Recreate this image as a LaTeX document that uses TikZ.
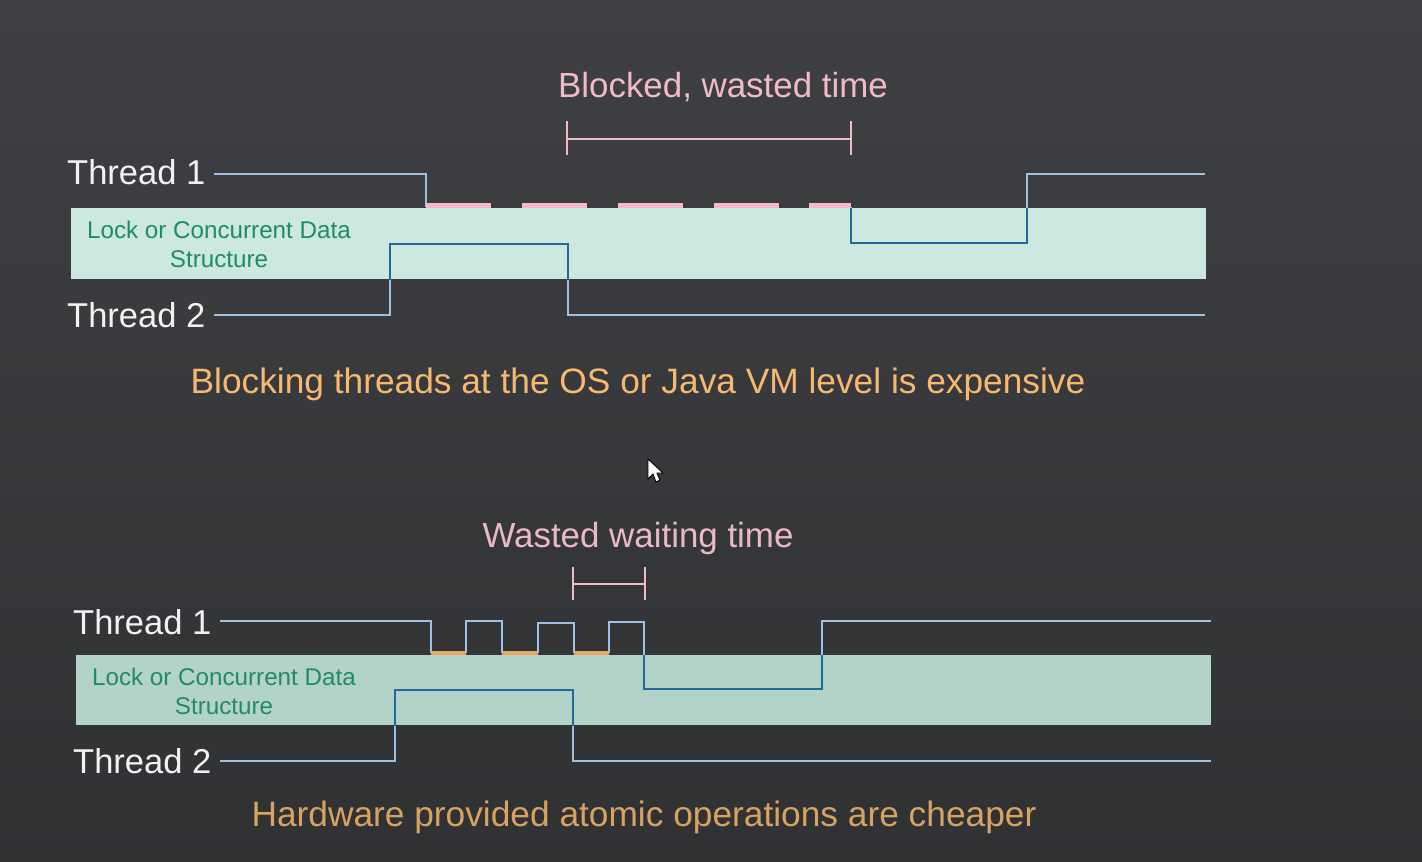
\documentclass[tikz,border=0pt]{standalone}
\usepackage{fontspec}
\setmainfont{Liberation Sans}
\begin{document}
\begin{tikzpicture}[x=1pt,y=-1pt,
  lbl/.style={inner sep=0pt,anchor=base west,text=white!95!black,font=\fontsize{34.5}{40}\selectfont},
  boxtxt/.style={inner sep=0pt,anchor=base,text=boxgreen,font=\fontsize{24.2}{28}\selectfont},
  wave/.style={line width=2.6pt,color=lightblue,line join=miter},
  wavein/.style={line width=2.6pt,color=darkblue,line join=miter},
  pinkbar/.style={line width=5pt,color=pinkc},
  orangebar/.style={line width=4pt,color=orangec},
  brack/.style={line width=2.5pt,color=pinkc},
]
\definecolor{bgtop}{HTML}{3F4043}
\definecolor{bgbot}{HTML}{303133}
\definecolor{boxA}{HTML}{CCE8DF}
\definecolor{boxB}{HTML}{B4D3C8}
\definecolor{boxgreen}{HTML}{1E8C6A}
\definecolor{lightblue}{HTML}{9EC0E2}
\definecolor{darkblue}{HTML}{236A9C}
\definecolor{pinkc}{HTML}{F2B9C8}
\definecolor{pinkd}{HTML}{EBB8C6}
\definecolor{orangec}{HTML}{E9A95C}
\definecolor{orangeT}{HTML}{F7B870}
\definecolor{orangeB}{HTML}{D8A262}

\useasboundingbox (0,0) rectangle (1422,862);
\shade[top color=bgtop,bottom color=bgbot] (0,0) rectangle (1422,862);

% ================= TOP DIAGRAM =================
\node[inner sep=0pt,anchor=base,text=pinkc,font=\fontsize{34.9}{40}\selectfont] (t1) at (723,97) {Blocked, wasted time};
\coordinate (bl) at (567,139); \coordinate (br) at (851,139);
\draw[brack] (567,121) -- (567,155);
\draw[brack] (851,121) -- (851,155);
\draw[brack] (bl) -- (br);

\fill[boxA] (71,208) rectangle (1206,279);
\node[boxtxt] (bx1) at (219,238) {Lock or Concurrent Data};
\node[boxtxt] (bx2) at (219,267) {Structure};

\node[lbl] (th1) at (67,184) {Thread 1};
\node[lbl] (th2) at (67,327) {Thread 2};

\def\topOne{(214,174) -- (426,174) -- (426,207)  (851,207) -- (851,243) -- (1027,243) -- (1027,174) -- (1205,174)}
\def\topTwo{(214,315) -- (390,315) -- (390,244) -- (568,244) -- (568,315) -- (1205,315)}
\draw[wave] \topOne;
\draw[wave] \topTwo;
\begin{scope}
\clip (71,208) rectangle (1206,279);
\draw[wavein] \topOne;
\draw[wavein] \topTwo;
\end{scope}
\foreach \a/\b in {426/491,522/587,618/683,714/779,809/851}
  \draw[pinkbar] (\a,205.5) -- (\b,205.5);

\node[inner sep=0pt,anchor=base,text=orangeT,font=\fontsize{35.3}{40}\selectfont] (cap1) at (638,393) {Blocking threads at the OS or Java VM level is expensive};

% mouse cursor
\draw[fill=white,draw=black,line width=0.9pt,line join=miter]
  (648,459) -- (648,479) -- (653,474) -- (656,482) -- (660,480) -- (657,473) -- (663,473) -- cycle;

% ================= BOTTOM DIAGRAM =================
\node[inner sep=0pt,anchor=base,text=pinkd,font=\fontsize{34.9}{40}\selectfont] (t2) at (638,547) {Wasted waiting time};
\coordinate (bl2) at (573,584); \coordinate (br2) at (645,584);
\draw[brack] (573,567) -- (573,600);
\draw[brack] (645,567) -- (645,600);
\draw[brack] (bl2) -- (br2);

\fill[boxB] (76,655) rectangle (1211,725);
\node[boxtxt] (bx3) at (224,685) {Lock or Concurrent Data};
\node[boxtxt] (bx4) at (224,714) {Structure};

\node[lbl] (th3) at (73,634) {Thread 1};
\node[lbl] (th4) at (73,773) {Thread 2};

\def\botOne{(220,621) -- (431,621) -- (431,653)  (466,653) -- (466,621) -- (502,621) -- (502,653)  (538,653) -- (538,623) -- (574,623) -- (574,653)  (609,653) -- (609,622) -- (644,622) -- (644,689) -- (822,689) -- (822,621) -- (1211,621)}
\def\botTwo{(220,761) -- (395,761) -- (395,690) -- (573,690) -- (573,761) -- (1211,761)}
\draw[wave] \botOne;
\draw[wave] \botTwo;
\begin{scope}
\clip (76,655) rectangle (1211,725);
\draw[wavein] \botOne;
\draw[wavein] \botTwo;
\end{scope}
\foreach \a/\b in {431/466,502/538,574/609}
  \draw[orangebar] (\a,652.5) -- (\b,652.5);

\node[inner sep=0pt,anchor=base,text=orangeB,font=\fontsize{35.3}{40}\selectfont] (cap2) at (644,826) {Hardware provided atomic operations are cheaper};
\end{tikzpicture}
\end{document}
